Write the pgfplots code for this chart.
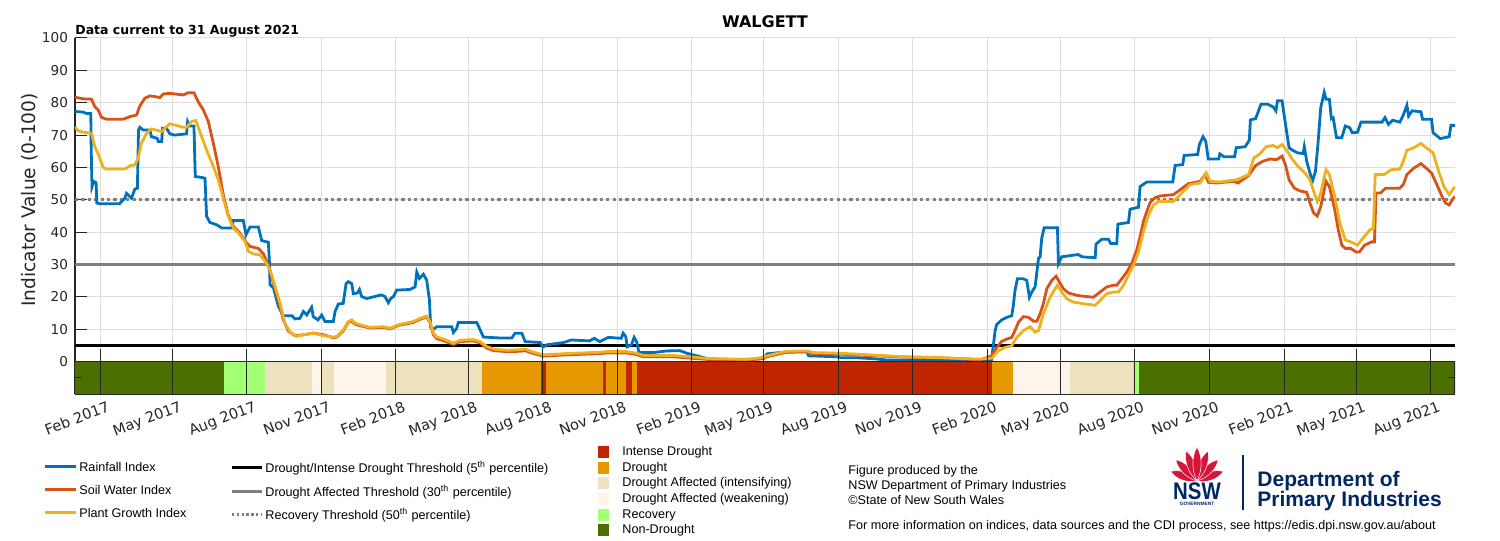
\documentclass[border=0pt]{standalone}
\usepackage{pgfplots}
\pgfplotsset{compat=1.18}
\usepackage{fontspec}
\setmainfont{DejaVu Sans}
\newfontfamily\legfont{Liberation Sans}
\definecolor{rain}{RGB}{0,114,189}
\definecolor{soil}{RGB}{217,83,25}
\definecolor{plant}{RGB}{237,177,32}
\definecolor{cID}{RGB}{191,38,0}
\definecolor{cD}{RGB}{230,152,0}
\definecolor{cDAI}{RGB}{237,226,189}
\definecolor{cDAW}{RGB}{253,245,233}
\definecolor{cRec}{RGB}{163,255,115}
\definecolor{cND}{RGB}{76,112,0}
\definecolor{axc}{RGB}{38,38,38}
\definecolor{gridc}{RGB}{222,222,222}
\definecolor{thr}{RGB}{128,128,128}
\definecolor{navy}{RGB}{0,38,100}
\definecolor{waratah}{RGB}{215,21,58}
\newcommand{\seg}[3]{\addplot[draw=none,fill=#3,forget plot] coordinates {(#1,-10) (#1,0) (#2,0) (#2,-10)} -- cycle;}
\newcommand{\petal}[4]{\fill[waratah,draw=white,line width=0.25pt,shift={(#1,#2)},rotate=#3] (0,0) .. controls (-6,-0.35*#4) and (-5,-0.75*#4) .. (0,-#4) .. controls (5,-0.75*#4) and (6,-0.35*#4) .. (0,0) -- cycle;}
\begin{document}
\begin{tikzpicture}
\useasboundingbox (0,0) rectangle (750pt,270.5pt);
\begin{axis}[
  at={(37.5pt,73.5pt)}, anchor=south west, scale only axis,
  width=690pt, height=178pt,
  xmin=0, xmax=1703, ymin=-10, ymax=100,
  axis x line*=bottom, axis y line*=left,
  axis line style={axc, line width=0.6pt, -},
  xtick={31,120,212,304,396,485,577,669,761,850,942,1034,1126,1216,1308,1400,1492,1581,1673},
  xticklabels={Feb 2017,May 2017,Aug 2017,Nov 2017,Feb 2018,May 2018,Aug 2018,Nov 2018,Feb 2019,May 2019,Aug 2019,Nov 2019,Feb 2020,May 2020,Aug 2020,Nov 2020,Feb 2021,May 2021,Aug 2021},
  x tick style={draw=none},
  xticklabel style={rotate=21, anchor=north east, font=\fontsize{7.3}{8}\selectfont, text=axc, inner sep=1pt, yshift=-3pt, xshift=3pt},
  ytick={0,10,...,100},
  yticklabel style={font=\fontsize{6.8}{8}\selectfont, text=axc},
  /pgf/number format/assume math mode=true,
  ytick align=inside, major tick length=6pt,
  y tick style={axc, line width=0.5pt},
  xmajorgrids, ymajorgrids, grid style={gridc, line width=0.5pt},
]
% thresholds
\addplot[black, line width=1.3pt] coordinates {(0,5) (1703,5)};
\addplot[thr, line width=1.3pt] coordinates {(0,30) (1703,30)};
\addplot[thr, line width=1.5pt, dash pattern=on 1.6pt off 1.6pt] coordinates {(0,50) (1703,50)};
% Rainfall Index
\addplot[rain, line width=1.4pt] coordinates {
(0,77.3) (10,77.1) (14,76.7) (19.5,76.7) (20,65.4) (21,54.1) (23,55.7) (26,55.3) (27,49) (30.6,48.8) (55,48.8) (61.5,50.5) (63.5,52) (67.7,51) (69.7,50.5) (73.8,53.3) (77,53.6) (78.4,71.6) (80,72.4) (84,71.6) (92.4,71.6) (94.4,69.5) (101.5,69) (102.7,68) (107,68) (108,72.1) (113,72.1) (117,70.4) (123,70) (137.7,70.4) (139,74.2) (141.8,72.8) (146.8,72.8) (148.4,57.2) (154,57) (160.4,56.7) (162.4,44.9) (166.5,43) (174.8,42.3) (181,41.3) (193.3,41.3) (195.4,43.6) (207.7,43.6) (211,39.2) (216,41.6) (226.3,41.6) (230.4,37.4) (238.6,36.9) (240,30.4) (240.7,23.8) (245,22.7) (251,17.1) (257,14.2) (267.5,14.2) (271.6,13.2) (277.7,13.4) (281.8,15.5) (286,14.4) (292,16.8) (294,13.9) (300,12.9) (304.4,14.4) (308.5,12.4) (318.8,12.4) (321,15.5) (325,17.8) (331,18) (334.5,24.1) (337.3,24.7) (341.5,24.1) (343.5,21) (348.5,21.2) (351,22.3) (353.8,20.1) (360,19.5) (374.4,20.4) (378.5,20.6) (382.6,20.1) (386.7,18.2) (389.6,19.5) (393,20.1) (397,22.1) (413.5,22.3) (419.7,23.1) (421.8,27.7) (425,25.7) (430,27) (434,25.2) (437.4,19) (439,10.6) (442.3,10) (446.4,10.8) (465,10.8) (467,9) (471,10.3) (473,12.1) (495.8,12.1) (500,9.8) (504,7.6) (524.7,7.3) (539,7.3) (543,8.8) (551.4,8.8) (555.5,6.2) (574,5.9) (577.4,4.5) (582.3,5.2) (603,5.9) (612.5,6.7) (635,6.4) (641,7.2) (647.6,6.2) (658,7.5) (674,7.2) (676.4,8.8) (679.7,7.7) (681.4,4.6) (686.7,5.2) (690,7.5) (693,6.2) (696,2.8) (713.5,2.8) (730,3.3) (746.5,3.4) (755,2.6) (779.5,1.0) (804.3,0.5) (829,0.7) (849.7,0.9) (854,2.4) (870,2.8) (886.8,3.1) (903,3.1) (905.3,1.8) (940.4,1.5) (944.5,1.2) (965,1.2) (985.8,0.9) (1002,0.5) (1068,0.5) (1093,0.3) (1131,0.3) (1135.5,9.6) (1137.5,11.5) (1143.7,12.9) (1150,13.7) (1156,14.2) (1158,17.4) (1160,22) (1163,25.6) (1170.4,25.6) (1174.5,25.1) (1177.8,19.9) (1180.7,21.5) (1184.8,23.1) (1189,31.9) (1191,32.4) (1193,38.1) (1196,41.4) (1212.4,41.4) (1213.6,30.3) (1217.7,32.4) (1224,32.6) (1238,33.1) (1242.4,32.4) (1259,32.1) (1260,36.3) (1267,37.8) (1275.3,37.8) (1278,36.5) (1285.6,36.5) (1287,42.5) (1300,43) (1302,47.1) (1312.4,47.7) (1314.4,54.1) (1322.6,55.5) (1354.7,55.5) (1357.6,60.6) (1367,60.9) (1368.7,63.7) (1385.4,64) (1387.6,67.1) (1392,69.5) (1395.4,68.1) (1398.5,62.6) (1411.5,62.6) (1412.8,64.2) (1418,63.3) (1431,63.3) (1433,66.1) (1444,66.4) (1449.2,68.4) (1450.5,74.7) (1457,75.1) (1463.5,79.5) (1472,79.5) (1478.7,78.7) (1482,77.5) (1484,80.6) (1489.6,80.6) (1491.7,76.9) (1496,69.7) (1498.2,66.1) (1502.6,65.3) (1509,64.5) (1515.6,64.3) (1517,66.4) (1520,61.9) (1524,58.3) (1527,55.7) (1530.8,58.8) (1534,67.6) (1537.3,78.5) (1541.6,83.2) (1543.8,81.1) (1548,81.1) (1550.4,75.1) (1552.6,75.4) (1556.8,69.2) (1563.3,69.2) (1567.6,72.8) (1573,72.3) (1576.3,70.7) (1582.8,70.9) (1587,74) (1613,74) (1616.6,75.4) (1621,73.3) (1626,74.6) (1634.8,74) (1639,76.1) (1643.6,79.2) (1645.7,75.9) (1650,77.5) (1661,77.2) (1663,74.9) (1674,74.9) (1676,70.7) (1682.6,69.4) (1684.8,68.9) (1695.8,69.5) (1698,73) (1703,73)
};
% Soil Water Index
\addplot[soil, line width=1.4pt] coordinates {
(0,81.7) (10,81.2) (20.3,81.1) (24.4,78.8) (28.5,77.8) (32.6,75.5) (38.8,74.9) (59.4,74.9) (67.7,75.7) (76,76.2) (80,79) (86.2,81.4) (92.4,82.1) (98.6,81.9) (104.7,81.6) (108.9,82.7) (117,82.9) (133.6,82.4) (139.8,83.1) (146.8,83.1) (152,80.3) (158.3,77.8) (164.5,74.2) (170.7,67.5) (176.8,60.3) (183,51.5) (189,45.4) (195.4,41.8) (203.6,39.7) (211.9,36.6) (216,35.6) (226.3,35) (232.5,33.3) (238.6,29.9) (244.8,24.3) (251,19.1) (257,13) (263.4,9.4) (271.6,8.0) (282,8.3) (294,8.8) (306.6,8.3) (318.8,7.4) (323,7.6) (331,9.5) (337.3,12.2) (341.5,12.5) (345.6,11.6) (351.8,11.1) (364,10.4) (380.6,10.6) (388.8,10.1) (399,11.2) (417.6,12.1) (426,13.1) (434,13.8) (438,12.1) (442.3,8.3) (446.4,7.1) (454.7,6.5) (467,5.3) (475,6.2) (491.7,6.4) (500,5.8) (508,4.2) (516.4,3.4) (533,3.1) (549,3.2) (555.5,3.4) (566,2.5) (578,1.7) (607,2.1) (648,2.5) (656,2.7) (680.5,2.7) (693,2.2) (701,1.5) (738,1.5) (759,1.1) (779.5,0.7) (812.5,0.5) (829,0.4) (845.5,0.9) (862,2.0) (878.6,2.9) (903,3.0) (911.5,2.5) (944.5,2.3) (985.8,1.8) (1027,1.4) (1068,1.2) (1109.5,0.7) (1117,0.5) (1131.3,1.8) (1137.5,4.4) (1143.7,6.3) (1150,7) (1156,7.5) (1160,9.6) (1164.3,12.2) (1170.4,13.9) (1176.6,13.7) (1182.8,12.5) (1187,12.5) (1191,14.8) (1195,17.9) (1199.2,22.5) (1205.4,25.1) (1210.7,26.4) (1213.6,25.1) (1219.8,22.5) (1226,21.2) (1236.3,20.5) (1244.5,20.2) (1256.8,19.9) (1265,21.5) (1273.3,23.1) (1281.5,23.6) (1285.6,23.6) (1291.8,25.6) (1298,27.7) (1304,30.3) (1310.3,34.5) (1314.4,38.6) (1318.5,43.3) (1322.6,46.4) (1326.8,49.2) (1333,50.7) (1339,51.2) (1355.6,51.6) (1363.8,53.1) (1374,55) (1388.5,55.7) (1394.6,57.8) (1398.8,55.4) (1409,55.2) (1429.6,55.7) (1435.3,55.2) (1448.3,57.5) (1457,60.6) (1465.7,61.9) (1474.4,62.6) (1483,62.4) (1489.6,63.5) (1494,60.6) (1498.2,56.2) (1504.7,53.6) (1511,52.8) (1520,52.3) (1524,49) (1528.6,45.9) (1533,45) (1537.3,47.9) (1543.8,55.7) (1548,54.1) (1554.6,46.9) (1559,40.7) (1563.3,36) (1567.6,35) (1574.2,35) (1580.7,33.9) (1585,33.9) (1591.5,36) (1600,37) (1603.6,37) (1604.5,43.8) (1605.4,52.1) (1611,52.1) (1617.5,53.6) (1634.9,53.6) (1639.2,54.7) (1643.6,57.8) (1652.2,59.8) (1661,61.2) (1669.7,59.3) (1674,58.3) (1680.6,54.7) (1687,51) (1691.3,49) (1695.8,48.4) (1700,50.2) (1703,51)
};
% Plant Growth Index
\addplot[plant, line width=1.4pt] coordinates {
(0,72.6) (4,71.3) (10,70.9) (20.3,70.6) (24.4,66.5) (28.5,64.2) (34.7,60.1) (38.8,59.5) (61.5,59.5) (67.7,60.5) (73.8,60.8) (78,62.9) (82,67.5) (88.3,70.6) (94.4,71.9) (102.7,71.4) (106.8,71.1) (113,72.6) (117,73.5) (123.3,73.1) (133.6,72.4) (137.7,72.4) (144,74.2) (149.2,74.5) (156.3,69.5) (162.4,65.4) (170.7,60.3) (176.8,56.2) (183,50.5) (189,44.9) (195.4,41.3) (203.6,39.2) (209.8,37.1) (214,34.1) (220,33.3) (228.3,33) (234.5,31) (240.7,28.4) (246.9,23.3) (253,18.1) (259,11.9) (265.6,9.1) (273.7,7.8) (282,8.3) (294,8.8) (306.6,8.0) (318.8,7.6) (323,7.8) (331,9.8) (337.3,12.4) (341.5,12.9) (345.6,11.9) (351.8,11.4) (364,10.6) (380.6,10.8) (388.8,10.3) (399,11.4) (417.6,12.4) (426,13.4) (434,14.1) (438,12.4) (442.3,8.8) (446.4,7.6) (454.7,7.0) (467,5.7) (475,6.6) (491.7,6.8) (500,6.2) (508,4.7) (516.4,3.9) (533,3.5) (549,3.7) (555.5,3.9) (566,2.9) (578,2.1) (607,2.5) (648,2.9) (656,3.1) (680.5,3.1) (693,2.6) (701,1.9) (738,1.9) (759,1.5) (779.5,1.0) (812.5,0.8) (829,0.7) (845.5,1.2) (862,2.3) (878.6,3.2) (903,3.3) (911.5,2.8) (944.5,2.6) (985.8,2.0) (1027,1.5) (1068,1.2) (1109.5,0.8) (1117,0.8) (1131.3,1.1) (1139.6,3.4) (1147.8,4.4) (1156,4.9) (1162.2,7.5) (1170.4,9.6) (1178.7,10.8) (1184.8,9.1) (1189,9.6) (1195,14.8) (1203.3,19.9) (1209.5,22.5) (1212.4,23.6) (1217.7,21.5) (1224,19.4) (1232,18.4) (1244.5,17.9) (1258.9,17.4) (1265,18.9) (1273.3,21) (1281.5,21.5) (1287.7,21.5) (1294,23.6) (1300,26.7) (1306.2,29.8) (1312.4,33.9) (1318.5,40.2) (1324.7,45.3) (1331,48.4) (1337,49.5) (1355.6,49.5) (1361.7,51) (1370,53.1) (1376,54.7) (1388.5,55.2) (1396,58.3) (1400.8,55.7) (1413,55.5) (1433.6,56.2) (1448.3,57.8) (1454.8,63) (1461.4,64) (1470,66.4) (1478.7,66.8) (1484,66.1) (1489.6,67.1) (1496,65) (1502.6,62.4) (1509,60.4) (1517.8,58.3) (1524,56.2) (1528.6,52.6) (1533,49.5) (1537.3,52.1) (1543.8,59.3) (1548,57.8) (1554.6,51) (1561,42.7) (1567.6,37.6) (1574.2,37) (1582.8,36) (1589.3,38.1) (1598,40.7) (1602.3,41.2) (1604.5,57.8) (1615.4,57.8) (1624,59.3) (1634.9,59.5) (1639.2,61.9) (1643.6,65.3) (1652.2,66.1) (1661,67.4) (1667.5,66.1) (1676,64.5) (1682.8,58.8) (1689.3,54.1) (1695.8,51.6) (1703,54.1)
};
% drought category band
\seg{0}{184}{cND}
\seg{184}{234.6}{cRec}
\seg{234.6}{292.6}{cDAI}
\seg{292.6}{303.7}{cDAW}
\seg{303.7}{319.8}{cDAI}
\seg{319.8}{384}{cDAW}
\seg{384}{502.5}{cDAI}
\seg{502.5}{575.3}{cD}
\seg{575.3}{581.5}{cID}
\seg{581.5}{651.9}{cD}
\seg{651.9}{655.6}{cID}
\seg{655.6}{680.2}{cD}
\seg{680.2}{687.7}{cID}
\seg{687.7}{693.8}{cD}
\seg{693.8}{1132.1}{cID}
\seg{1132.1}{1158}{cD}
\seg{1158}{1228.4}{cDAW}
\seg{1228.4}{1306.2}{cDAI}
\seg{1306.2}{1313.6}{cRec}
\seg{1313.6}{1703}{cND}
\draw[axc, line width=0.7pt] (axis cs:0,0) -- (axis cs:1703,0) -- (axis cs:1703,-10);
\pgfplotsinvokeforeach{31,120,212,304,396,485,577,669,761,850,942,1034,1126,1216,1308,1400,1492,1581,1673}{
  \draw[axc, line width=0.5pt] (axis cs:#1,-10) -- (axis cs:#1,4);
}
\draw[axc, line width=0.5pt] (axis cs:0,-5) -- (axis cs:9,-5);
\draw[axc, line width=0.5pt] (axis cs:1703,-5) -- (axis cs:1694,-5);
\end{axis}
\begin{scope}[x=0.5pt,y=-0.5pt,yshift=270.5pt]
% titles
\node[font=\bfseries\fontsize{8}{9}\selectfont, text=black] at (765,22) {WALGETT};
\node[font=\bfseries\fontsize{6.25}{7}\selectfont, anchor=base west, inner sep=0pt] at (75,35) {Data current to 31 August 2021};
\node[rotate=90, font=\fontsize{9.3}{10}\selectfont, text=axc] at (30,200) {Indicator Value (0-100)};
% legend column 1
\draw[rain, line width=1.5pt] (45,467) -- (76,467);
\draw[soil, line width=1.5pt] (45,490) -- (76,490);
\draw[plant, line width=1.5pt] (45,513) -- (76,513);
\begin{scope}[every node/.style={anchor=west, inner sep=0pt, font=\legfont\fontsize{6.3}{7.5}\selectfont}]
\node at (79,467) {Rainfall Index};
\node at (79,490) {Soil Water Index};
\node at (79,513) {Plant Growth Index};
% column 2
\draw[black, line width=1.5pt] (232,468) -- (262,468);
\draw[thr, line width=1.5pt] (232,492) -- (262,492);
\draw[thr, line width=1.5pt, dash pattern=on 1.2pt off 1.2pt] (232,515) -- (262,515);
\node at (265,468) {Drought/Intense Drought Threshold (5\textsuperscript{th} percentile)};
\node at (265,492) {Drought Affected Threshold (30\textsuperscript{th} percentile)};
\node at (265,515) {Recovery Threshold (50\textsuperscript{th} percentile)};
% column 3
\fill[cID] (598,446) rectangle (609,458);
\fill[cD] (598,462) rectangle (609,474);
\fill[cDAI] (598,477) rectangle (609,489);
\fill[cDAW] (598,493) rectangle (609,505);
\fill[cRec] (598,509) rectangle (609,521);
\fill[cND] (598,524) rectangle (609,536);
\node at (622,452) {Intense Drought};
\node at (622,468) {Drought};
\node at (622,483) {Drought Affected (intensifying)};
\node at (622,499) {Drought Affected (weakening)};
\node at (622,515) {Recovery};
\node at (622,530) {Non-Drought};
% column 4
\node at (848,471) {Figure produced by the};
\node at (848,486) {NSW Department of Primary Industries};
\node at (848,500) {\textcopyright State of New South Wales};
\node at (848,526) {For more information on indices, data sources and the CDI process, see https://edis.dpi.nsw.gov.au/about};
\end{scope}
% logo
\petal{1197}{481}{70}{28}
\petal{1197}{481}{-70}{28}
\petal{1197}{481}{45}{30}
\petal{1197}{481}{-45}{30}
\petal{1197}{481}{20}{32}
\petal{1197}{481}{-20}{32}
\petal{1197}{481}{0}{34}
\node[font=\legfont\bfseries\fontsize{12}{12}\selectfont, text=navy, xscale=0.85, inner sep=0pt] at (1197,491) {NSW};
\node[font=\legfont\bfseries\fontsize{2.4}{3}\selectfont, text=navy, inner sep=0pt] at (1197,504) {GOVERNMENT};
\draw[navy, line width=0.6pt] (1243,455) -- (1243,510);
\node[font=\legfont\bfseries\fontsize{10.5}{11}\selectfont, text=navy, anchor=west, inner sep=0pt] at (1257,481) {Department of};
\node[font=\legfont\bfseries\fontsize{10.5}{11}\selectfont, text=navy, anchor=west, inner sep=0pt] at (1257,501) {Primary Industries};
\end{scope}
\end{tikzpicture}
\end{document}
